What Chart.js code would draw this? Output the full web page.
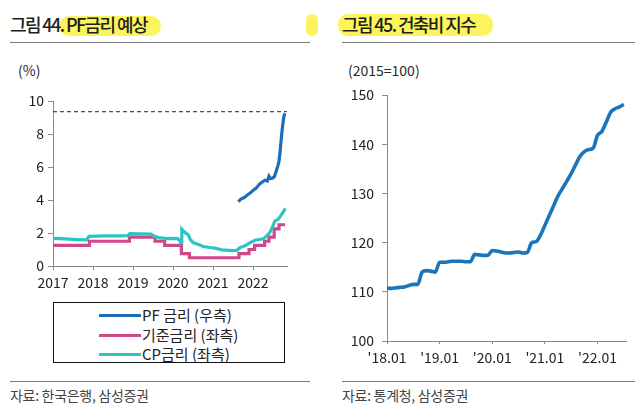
<!DOCTYPE html>
<html><head><meta charset="utf-8">
<script src="https://cdn.jsdelivr.net/npm/chart.js@4/dist/chart.umd.min.js"></script>
<style>
html,body{margin:0;padding:0;background:#fff;}
body{width:635px;height:414px;position:relative;overflow:hidden;font-family:'Noto Sans CJK KR','Noto Sans',sans-serif;color:#222;}
.abs{position:absolute;}
.title{font-size:18px;font-weight:500;letter-spacing:-1.6px;top:12px;line-height:24px;white-space:nowrap;color:#1e1e1e;}
.hl{background:#fcf45c;border-radius:10px;}
.rule{height:1px;background:#7a7a7a;}
.unit{font-size:14px;color:#2a2a2a;top:61px;line-height:18px;white-space:nowrap;}
.src{font-size:14px;color:#444;top:386px;line-height:18px;white-space:nowrap;letter-spacing:-0.3px;}
#legend{left:53px;top:302px;width:232px;height:61px;border:1.5px solid #111;box-sizing:border-box;font-size:15px;color:#222;}
.lg{position:absolute;left:45px;height:19px;line-height:19px;white-space:nowrap;}
.sw{display:inline-block;width:42px;height:3px;vertical-align:middle;margin-right:1px;position:relative;top:-1px;}
</style></head><body>

<div class="abs hl" style="left:59px;top:16px;width:102px;height:20px;"></div>
<div class="abs hl" style="left:306px;top:14px;width:12px;height:22px;border-radius:6px;"></div>
<div class="abs hl" style="left:338px;top:14px;width:155px;height:22px;"></div>
<div class="abs title" style="left:10px;">그림 44. PF금리 예상</div>
<div class="abs title" style="left:342px;">그림 45. 건축비 지수</div>
<div class="abs rule" style="left:10px;top:42px;width:300px;"></div>
<div class="abs rule" style="left:342px;top:42px;width:293px;"></div>
<div class="abs unit" style="left:18px;">(%)</div>
<div class="abs unit" style="left:348px;">(2015=100)</div>

<div class="abs" style="left:0;top:60px;width:310px;height:232px;"><canvas id="c1" width="310" height="232"></canvas></div>
<div class="abs" style="left:320px;top:60px;width:315px;height:310px;"><canvas id="c2" width="315" height="310"></canvas></div>

<div id="legend" class="abs"></div>

<div class="abs rule" style="left:10px;top:381px;width:300px;"></div>
<div class="abs rule" style="left:342px;top:381px;width:293px;"></div>
<div class="abs src" style="left:10px;">자료: 한국은행, 삼성증권</div>
<div class="abs src" style="left:342px;">자료: 통계청, 삼성증권</div>

<script>
// ---------- Chart 44 data ----------
const yearTicks = [2017, 2018, 2019, 2020, 2021, 2022];
const yearLabels = ['2017', '2018', '2019', '2020', '2021', '2022'];
const rateTicks = [0, 2, 4, 6, 8, 10];

const seriesNames = ['PF 금리 (우측)', '기준금리 (좌측)', 'CP금리 (좌측)'];

const pfT = [2021.63, 2021.70, 2021.78, 2021.86, 2021.93, 2022.00, 2022.08, 2022.17, 2022.25, 2022.30, 2022.36, 2022.40, 2022.44, 2022.48, 2022.53, 2022.58, 2022.62, 2022.65, 2022.68, 2022.71, 2022.74, 2022.77, 2022.80];
const pfV = [3.90, 4.05, 4.15, 4.30, 4.42, 4.58, 4.72, 4.98, 5.12, 5.20, 5.15, 5.45, 5.30, 5.32, 5.40, 5.75, 6.05, 6.35, 7.00, 7.80, 8.50, 9.05, 9.25];

const baseT = [2017.00, 2017.91, 2018.91, 2019.55, 2019.79, 2020.21, 2020.41, 2021.65, 2021.90, 2022.04, 2022.29, 2022.40, 2022.53, 2022.65, 2022.80];
const baseV = [1.25, 1.50, 1.75, 1.50, 1.25, 0.75, 0.50, 0.75, 1.00, 1.25, 1.50, 1.75, 2.25, 2.50, 2.50];

const cpT = [2017.00, 2017.30, 2017.60, 2017.84, 2017.90, 2018.30, 2018.70, 2018.87, 2018.92, 2019.20, 2019.45, 2019.55, 2019.65, 2019.84, 2020.00, 2020.12, 2020.17, 2020.20, 2020.22, 2020.30, 2020.38, 2020.43, 2020.50, 2020.62, 2020.76, 2020.92, 2021.05, 2021.22, 2021.50, 2021.60, 2021.68, 2021.80, 2021.93, 2022.05, 2022.18, 2022.26, 2022.34, 2022.42, 2022.48, 2022.55, 2022.63, 2022.69, 2022.75, 2022.81];
const cpV = [1.68, 1.64, 1.60, 1.58, 1.80, 1.82, 1.82, 1.84, 1.96, 1.95, 1.94, 1.78, 1.72, 1.66, 1.68, 1.66, 1.52, 1.40, 2.23, 2.03, 1.89, 1.62, 1.42, 1.32, 1.18, 1.12, 1.08, 0.98, 0.93, 0.95, 1.12, 1.22, 1.42, 1.56, 1.62, 1.64, 1.83, 2.03, 2.33, 2.74, 2.84, 3.04, 3.25, 3.49];

const refT = [2017.0, 2022.85];
const refV = [9.35, 9.35];

// ---------- Chart 45 data ----------
const monthTicks = [0, 12, 24, 36, 48];
const monthLabels = ["'18.01", "'19.01", "'20.01", "'21.01", "'22.01"];
const indexTicks = [100, 110, 120, 130, 140, 150];
const costIndex = [110.7, 110.7, 110.8, 110.9, 111.0, 111.3, 111.5, 111.5, 114.0, 114.3, 114.2, 114.0,
  116.0, 116.0, 116.1, 116.2, 116.2, 116.2, 116.1, 116.1, 117.6, 117.5, 117.4, 117.4,
  118.4, 118.3, 118.1, 117.9, 117.9, 118.0, 118.1, 117.9, 118.0, 120.0, 120.2, 121.5,
  123.5, 125.5, 127.5, 129.5, 131.0, 132.5, 134.0, 135.8, 137.5, 138.5, 138.9, 139.2,
  141.8, 142.6, 144.5, 146.5, 147.2, 147.6, 148.1];

const colors = ['#1b6fb8', '#d0488a', '#2cc5c3'];
const axisColor = '#8a8a8a';
const tickFont = {family: "'Noto Sans CJK KR','Noto Sans',sans-serif", size: 14};

function pts(t, v) { return t.map((x, i) => ({x: x, y: v[i]})); }

const c1 = new Chart(document.getElementById('c1'), {
  type: 'line',
  data: {
    datasets: [
      {label: seriesNames[0], data: pts(pfT, pfV), yAxisID: 'y1', borderColor: colors[0], borderWidth: 3.2, pointRadius: 0, tension: 0, order: 1},
      {label: seriesNames[1], data: pts(baseT, baseV), yAxisID: 'y', borderColor: colors[1], borderWidth: 3.2, pointRadius: 0, stepped: true, order: 3},
      {label: seriesNames[2], data: pts(cpT, cpV), yAxisID: 'y', borderColor: colors[2], borderWidth: 3.2, pointRadius: 0, tension: 0, order: 2},
      {label: 'ref', data: pts(refT, refV), yAxisID: 'y', borderColor: '#222', borderWidth: 1, borderDash: [4, 3], pointRadius: 0, order: 0}
    ]
  },
  options: {
    responsive: false, animation: false,
    layout: {padding: {left: 0, right: 23, top: 41, bottom: 0}},
    plugins: {legend: {display: false}, tooltip: {enabled: false}},
    scales: {
      x: {
        type: 'linear', min: 2017, max: 2022.85,
        afterBuildTicks: s => { s.ticks = yearTicks.map(v => ({value: v})); },
        afterFit: s => { s.height = 26; },
        ticks: {callback: (v) => yearLabels[yearTicks.indexOf(v)], color: '#222', font: tickFont, padding: 4, maxRotation: 0, autoSkip: false},
        grid: {drawOnChartArea: false, drawTicks: true, tickLength: 4, color: axisColor},
        border: {color: axisColor, width: 1}
      },
      y: {
        min: 0, max: 10,
        afterBuildTicks: s => { s.ticks = rateTicks.map(v => ({value: v})); },
        afterFit: s => { s.width = 53; },
        ticks: {color: '#222', font: tickFont, padding: 4},
        grid: {drawOnChartArea: false, drawTicks: true, tickLength: 5, color: axisColor},
        border: {color: axisColor, width: 1}
      },
      y1: {min: 0, max: 10, display: false}
    }
  }
});

const c2 = new Chart(document.getElementById('c2'), {
  type: 'line',
  data: {
    datasets: [
      {label: '건축비 지수', data: costIndex.map((v, i) => ({x: i, y: v})), borderColor: '#1b75bb', borderWidth: 3.6, pointRadius: 0, tension: 0.2, cubicInterpolationMode: 'monotone'}
    ]
  },
  options: {
    responsive: false, animation: false,
    layout: {padding: {left: 0, right: 9, top: 35, bottom: 0}},
    plugins: {legend: {display: false}, tooltip: {enabled: false}},
    scales: {
      x: {
        type: 'linear', min: 0, max: 54.5,
        afterBuildTicks: s => { s.ticks = monthTicks.map(v => ({value: v})); },
        afterFit: s => { s.height = 29; },
        ticks: {callback: (v) => monthLabels[monthTicks.indexOf(v)], color: '#222', font: tickFont, padding: 5, maxRotation: 0, autoSkip: false},
        grid: {drawOnChartArea: false, drawTicks: true, tickLength: 3, color: axisColor},
        border: {color: axisColor, width: 1}
      },
      y: {
        min: 100, max: 150,
        afterBuildTicks: s => { s.ticks = indexTicks.map(v => ({value: v})); },
        afterFit: s => { s.width = 67; },
        ticks: {color: '#222', font: tickFont, padding: 8},
        grid: {drawOnChartArea: false, drawTicks: true, tickLength: 5, color: axisColor},
        border: {color: axisColor, width: 1}
      }
    }
  }
});

// HTML legend built from chart datasets
const lg = document.getElementById('legend');
c1.data.datasets.slice(0, 3).forEach((ds, i) => {
  const row = document.createElement('div');
  row.className = 'lg';
  row.style.top = (2 + i * 19.5) + 'px';
  row.innerHTML = '<span class="sw" style="background:' + ds.borderColor + '"></span>' + ds.label;
  lg.appendChild(row);
});
</script>
</body></html>
